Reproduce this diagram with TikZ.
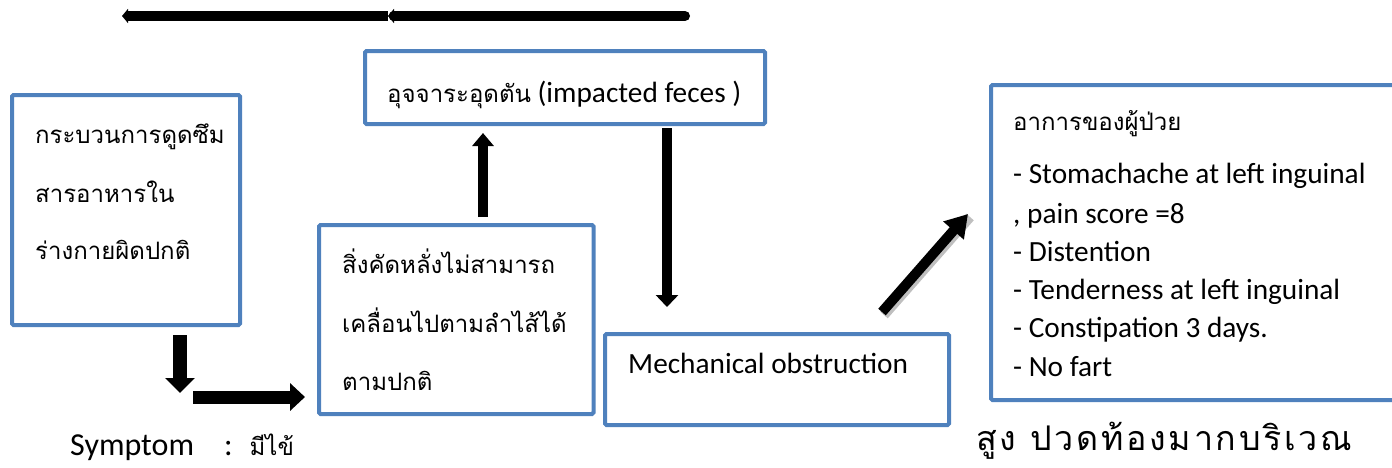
\documentclass[tikz,border=0pt]{standalone}
\usepackage{fontspec}
\setmainfont{Carlito}
\newfontfamily\thai[Script=Thai]{Loma}
\usetikzlibrary{arrows.meta}
\definecolor{boxblue}{HTML}{4F81BD}
\begin{document}
\begin{tikzpicture}[x=1pt,y=-1pt,
  box/.style={draw=boxblue, line width=4pt, rounded corners=1.5pt, anchor=north west, inner sep=0pt, outer sep=0pt},
  en/.style={font=\fontsize{29.3}{35}\selectfont, anchor=base west, inner sep=0pt},
  th/.style={font=\thai\fontsize{24}{30}\selectfont, anchor=base west, inner sep=0pt},
  bigarrow/.style={draw=black, line width=#1},
]
\useasboundingbox (0,0) rectangle (1392,467);
\clip (0,0) rectangle (1392,467);

% boxes
\node[box, minimum width=228pt, minimum height=230pt] (b1) at (12,95) {};
\node[box, minimum width=400pt, minimum height=73pt] (b2) at (365,51) {};
\node[box, minimum width=274.5pt, minimum height=189pt] (b3) at (319,225) {};
\node[box, minimum width=344pt, minimum height=91pt] (b4) at (605,334) {};
\node[box, minimum width=430pt, minimum height=315pt] (b5) at (991,85) {};

% texts box 1
\node[th] (t11) at (35,143) {กระบวนการดูดซึม};
\node[th] (t12) at (35,202) {สารอาหารใน};
\node[th] (t13) at (35,259) {ร่างกายผิดปกติ};
% box 2
\node[en] (t21) at (387,102) {{\thai\fontsize{24}{30}\selectfont อุจจาระอุดตัน} (impacted feces )};
% box 3
\node[th] (t31) at (342,273) {สิ่งคัดหลั่งไม่สามารถ};
\node[th] (t32) at (342,332) {เคลื่อนไปตามลำไส้ได้};
\node[th] (t33) at (342,390) {ตามปกติ};
% box 4
\node[en] (t41) at (628,373) {Mechanical obstruction};
% box 5
\node[th] (t51) at (1013,130) {อาการของผู้ป่วย};
\node[en] (t52) at (1013,183) {- Stomachache at left inguinal};
\node[en] (t53) at (1013,223) {, pain score =8};
\node[en] (t54) at (1013,261) {- Distention};
\node[en] (t55) at (1013,299) {- Tenderness at left inguinal};
\node[en] (t56) at (1013,337) {- Constipation 3 days.};
\node[en] (t57) at (1013,376) {- No fart};
% bottom texts
\node[en, font=\fontsize{32}{38}\selectfont] (sym) at (70,455) {Symptom\hspace{30pt}:\hspace{17pt}{\thai\fontsize{24}{30}\selectfont มีไข้}};
\node[th, font=\thai\fontsize{34}{40}\selectfont] (sym2) at (976,450) {\addfontfeature{LetterSpace=8}สูง ปวดท้องมากบริเวณ};

% arrow end points
\coordinate (aA1) at (180,335);
\coordinate (aA2) at (180,393);
\coordinate (aB1) at (193,397);
\coordinate (aB2) at (305,397);
\coordinate (aC1) at (483,217);
\coordinate (aC2) at (483,133);
\coordinate (aD1) at (667,128);
\coordinate (aD2) at (667,307);
\coordinate (aE1) at (882,312);
\coordinate (aE2) at (968,214);
\coordinate (top1) at (685,16);
\coordinate (top2) at (388,16);
\coordinate (top3) at (122,16);

\draw[bigarrow=14pt, -{Triangle[width=29pt,length=15pt]}] (aA1) -- (aA2);
\draw[bigarrow=13pt, -{Triangle[width=27pt,length=15pt]}] (aB1) -- (aB2);
\draw[bigarrow=10pt, -{Triangle[width=21pt,length=13pt]}] (aC1) -- (aC2);
\draw[bigarrow=10pt, -{Triangle[width=22pt,length=12pt]}] (aD1) -- (aD2);
\draw[draw=black!25, line width=10pt] ([shift={(2,3)}]aE1) -- ([shift={(2,3)}]aE2);
\draw[bigarrow=10pt, -{Triangle[width=26pt,length=22pt]}] (aE1) -- (aE2);

\draw[bigarrow=10pt, line cap=round, -{Triangle[width=14pt,length=6pt]}] (top1) -- (top2);
\draw[bigarrow=10pt, -{Triangle[width=14pt,length=6pt]}] (top2) -- (top3);
\end{tikzpicture}
\end{document}
